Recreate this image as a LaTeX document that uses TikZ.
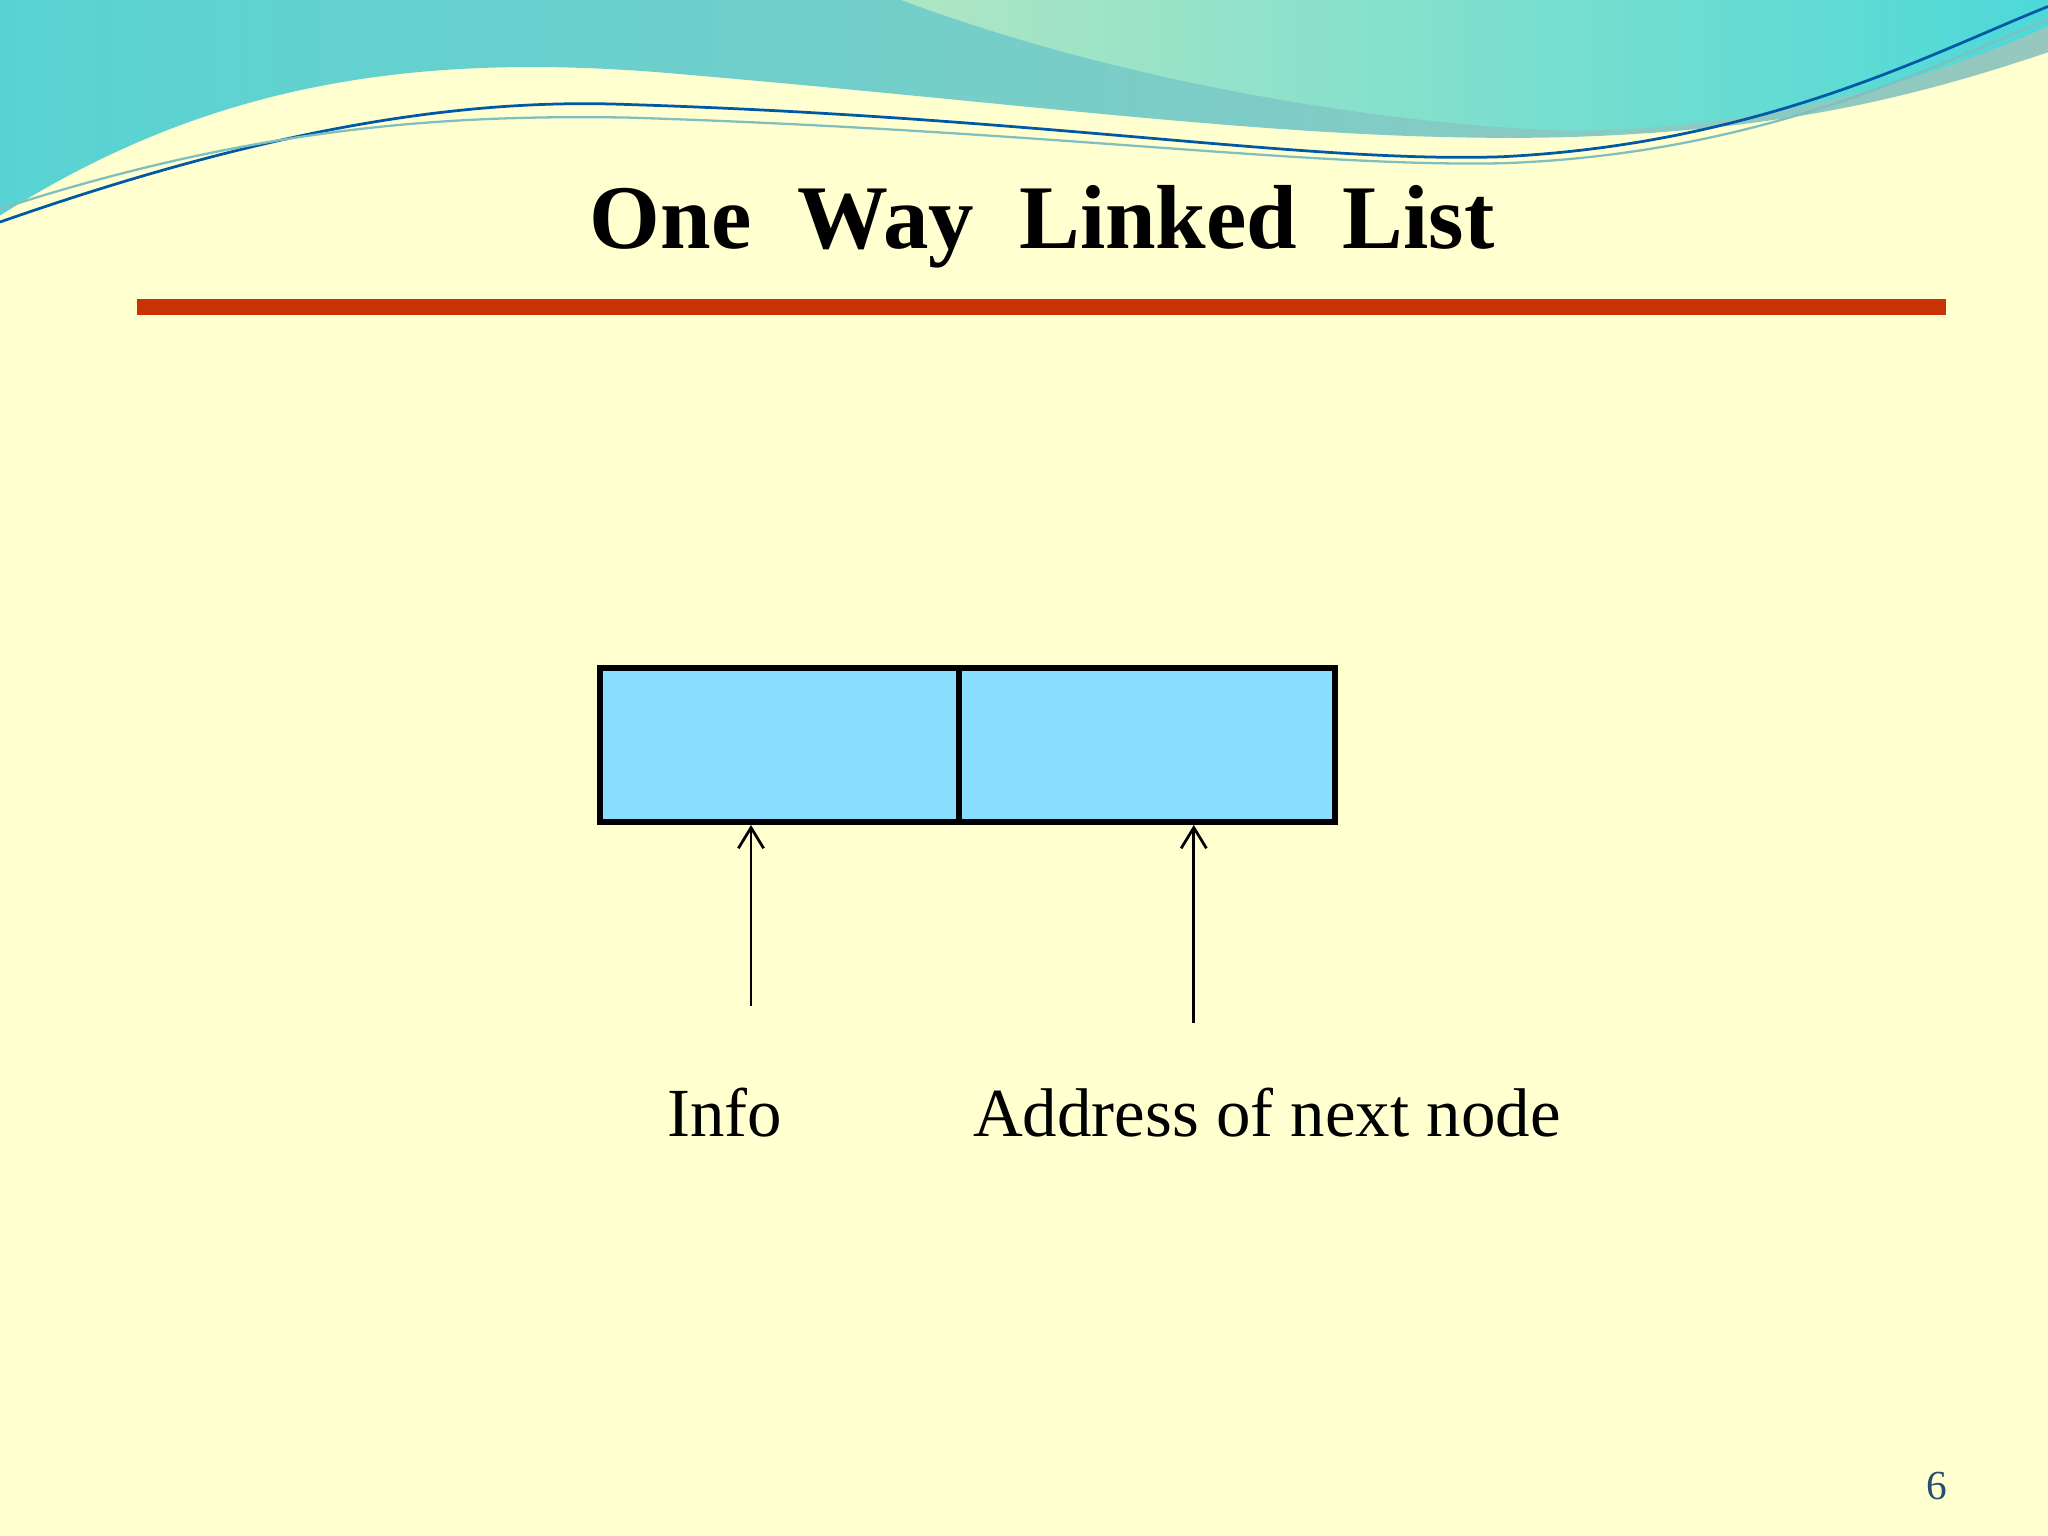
\documentclass[tikz,border=0pt]{standalone}
\usepackage{fontspec}
\setmainfont{Liberation Serif}
\usetikzlibrary{arrows.meta}
\definecolor{bg}{RGB}{255,255,208}
\definecolor{wave1}{RGB}{110,200,200}
\definecolor{wave2}{RGB}{150,200,190}
\definecolor{wave3}{RGB}{175,230,195}
\definecolor{barred}{RGB}{200,50,5}
\definecolor{cellblue}{RGB}{137,222,255}
\definecolor{pagenum}{RGB}{40,80,110}
\tikzset{cell/.style={draw=black,line width=1.3pt,fill=cellblue,minimum height=1.18cm,inner sep=0pt},
ptr/.style={-{Straight Barb[length=4.5pt,width=5.5pt]},line width=0.6pt},
lbl/.style={font=\fontsize{15}{18}\selectfont,inner sep=0pt}}
\begin{document}
\begin{tikzpicture}[x=0.01cm,y=-0.01cm]
\fill[bg] (0,0) rectangle (1568,1176);
\useasboundingbox (0,0) rectangle (1568,1176);
% waves
\shade[left color=wave1!80!cyan,right color=wave2] (0,0) -- (0,165) .. controls (150,70) and (300,40) .. (500,55) .. controls (800,80) and (1000,110) .. (1200,105) .. controls (1350,100) and (1450,80) .. (1568,40) -- (1568,0) -- cycle;
\shade[left color=wave3,right color=wave1!70!cyan] (690,0) .. controls (850,60) and (1050,95) .. (1200,100) .. controls (1350,100) and (1480,60) .. (1568,20) -- (1568,0) -- cycle;
\draw[teal!70!blue,line width=0.6pt] (0,170) .. controls (200,100) and (350,75) .. (480,80) .. controls (800,90) and (1000,125) .. (1150,120) .. controls (1350,110) and (1480,40) .. (1568,5);
\draw[teal!50,line width=0.5pt] (0,160) .. controls (200,95) and (350,88) .. (480,90) .. controls (800,100) and (1000,128) .. (1150,125) .. controls (1350,118) and (1480,50) .. (1568,15);
% title
\node[font=\fontsize{19.8}{24}\selectfont\bfseries] (title) at (798,174) {One\ \ Way\ \ Linked\ \ List};
\fill[barred] (105,229) rectangle (1490,241);
% box
\node[cell,minimum width=2.75cm,anchor=north west] (info) at (457,509) {};
\node[cell,minimum width=2.88cm,anchor=north west] (next) at (732,509) {};
\coordinate (a1) at (575,770);
\coordinate (a2) at (914,783);
\draw[ptr] (a1) -- (a1 |- info.south);
\draw[ptr] (a2) -- (a2 |- next.south);
\node[lbl] (tinfo) at (555,852) {Info};
\node[lbl] (taddr) at (970,852) {Address of next node};
\node[font=\fontsize{9}{10}\selectfont,text=pagenum] (pg) at (1483,1138) {6};
\end{tikzpicture}
\end{document}
